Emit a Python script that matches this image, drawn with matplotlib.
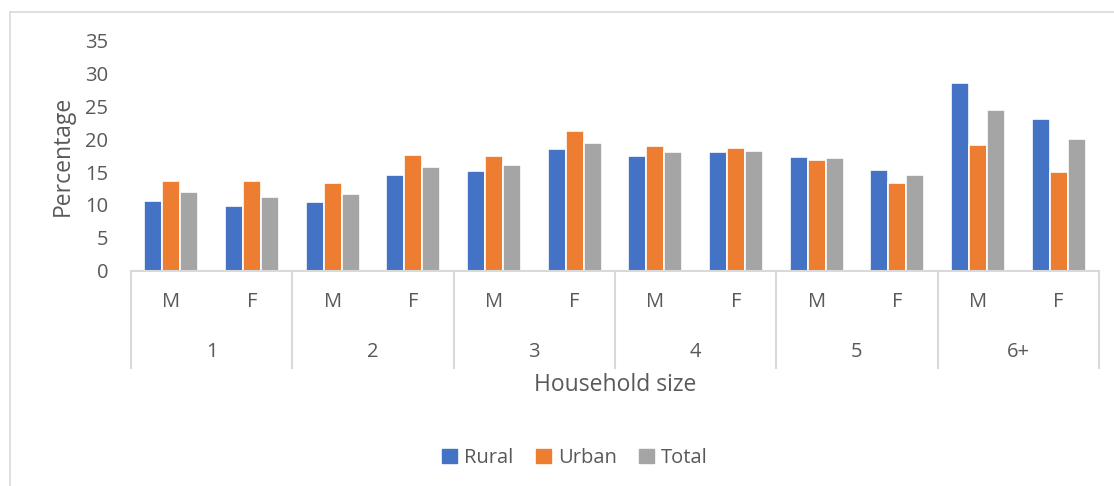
import matplotlib
matplotlib.use("Agg")
import matplotlib.pyplot as plt
import matplotlib.transforms as mtransforms
from matplotlib.lines import Line2D
from matplotlib.patches import Patch
import numpy as np

plt.rcParams['font.family'] = ['Open Sans', 'DejaVu Sans']

# household size groups, each split by sex of head
groups = ['1', '2', '3', '4', '5', '6+']
sexes = ['M', 'F']

rural = [10.6, 9.8, 10.4, 14.6, 15.1, 18.5, 17.4, 18.0, 17.3, 15.3, 28.5, 23.1]
urban = [13.7, 13.6, 13.3, 17.6, 17.5, 21.2, 19.0, 18.6, 16.8, 13.4, 19.2, 15.0]
total = [12.0, 11.2, 11.6, 15.8, 16.1, 19.5, 18.1, 18.2, 17.1, 14.6, 24.5, 20.0]

series = {'Rural': rural, 'Urban': urban, 'Total': total}
colors = {'Rural': '#4472C4', 'Urban': '#ED7D31', 'Total': '#A5A5A5'}
txt = '#595959'
grid = '#D9D9D9'

W, H = 1114, 486
fig = plt.figure(figsize=(W / 100, H / 100), dpi=100)

# chart border (only left + top visible in the crop)
fig.add_artist(Line2D([10 / W, 10 / W], [0, 1 - 12 / H], color=grid, lw=1.2))
fig.add_artist(Line2D([10 / W, 1], [1 - 12 / H, 1 - 12 / H], color=grid, lw=1.2))

ax = fig.add_axes([131 / W, 215.3 / H, (1099 - 131) / W, 230 / H])

n = len(rural)
x = np.arange(n)
step = 0.223
for i, name in enumerate(series):
    ax.bar(x + (i - 1) * step, series[name], width=step, color=colors[name],
           edgecolor='white', linewidth=1.2, label=name)

ax.set_xlim(-0.5, n - 0.5)
ax.set_ylim(0, 35)
ax.set_yticks(range(0, 36, 5))
ax.tick_params(axis='y', length=0, pad=16.5, labelsize=14.5, labelcolor=txt)
ax.set_xticks([])
for s in ['top', 'right', 'left']:
    ax.spines[s].set_visible(False)
ax.spines['bottom'].set_color(grid)
ax.spines['bottom'].set_linewidth(1.5)

ax.set_ylabel('Percentage', fontsize=16.5, color=txt, labelpad=7)

# two-level category axis
tr = mtransforms.blended_transform_factory(ax.transData, ax.transAxes)
for k in range(len(groups) + 1):
    xb = k * len(sexes) - 0.5
    ax.plot([xb, xb], [0, -0.423], transform=tr, color=grid, lw=1.5, clip_on=False)
for j in range(n):
    ax.text(j, -0.135, sexes[j % 2], transform=tr, ha='center', va='center',
            fontsize=14.5, color=txt)
for k, g in enumerate(groups):
    ax.text(k * 2 + 0.5, -0.353, g, transform=tr, ha='center', va='center',
            fontsize=14.5, color=txt)
ax.text(0.5, -0.497, 'Household size', transform=ax.transAxes, ha='center',
        va='center', fontsize=16.5, color=txt)

handles = [Patch(color=colors[name], label=name) for name in series]
fig.legend(handles=handles, loc='center', bbox_to_anchor=(575 / W, 1 - 458 / H),
           ncol=3, frameon=False, fontsize=14.5, labelcolor=txt,
           handlelength=0.75, handleheight=0.75, handletextpad=0.35, columnspacing=1.1)

fig.savefig('out.png', dpi=100)
